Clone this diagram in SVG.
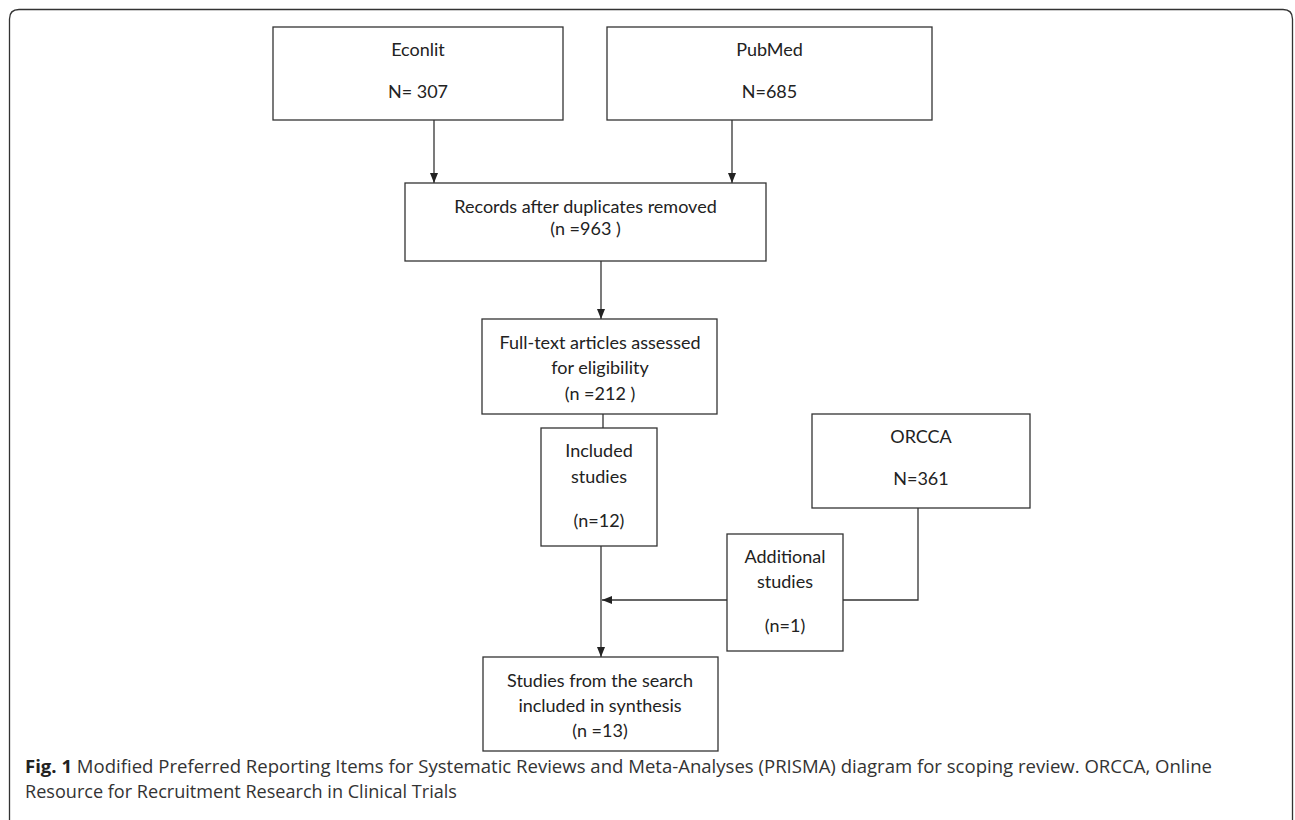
<svg xmlns="http://www.w3.org/2000/svg" width="1295" height="820" viewBox="0 0 1295 820">
<style>
.box{fill:#fff;stroke:#333;stroke-width:1.3}
.t{font-family:Lato,"Open Sans","Liberation Sans",sans-serif;font-size:18px;fill:#222;text-anchor:middle}
.c{stroke:#333;stroke-width:1.3;fill:none}
.cap{font-family:"Open Sans","Noto Sans","Liberation Sans",sans-serif;font-size:18px;fill:#333}
</style>
<defs>
<marker id="ah" viewBox="0 0 10 10" refX="10" refY="5" markerWidth="10" markerHeight="10" markerUnits="userSpaceOnUse" orient="auto">
<path d="M0,1 L10,5 L0,9 Z" fill="#222"/>
</marker>
</defs>
<rect width="1295" height="820" fill="#fff"/>
<path d="M9.5,830 L9.5,19 Q9.5,9.5 19,9.5 L1283,9.5 Q1292.5,9.5 1292.5,19 L1292.5,830" fill="none" stroke="#333" stroke-width="1.3"/>
<g id="connectors">
<line class="c" x1="434" y1="120" x2="434" y2="183" marker-end="url(#ah)"/>
<line class="c" x1="732" y1="120" x2="732" y2="183" marker-end="url(#ah)"/>
<line class="c" x1="601" y1="261" x2="601" y2="319" marker-end="url(#ah)"/>
<line class="c" x1="603" y1="414" x2="603" y2="428"/>
<line class="c" x1="601" y1="546" x2="601" y2="657" marker-end="url(#ah)"/>
<polyline class="c" points="918,508 918,600 843,600"/>
<line class="c" x1="727" y1="600" x2="602" y2="600" marker-end="url(#ah)"/>
</g>
<g id="econlit">
<rect class="box" x="273" y="27" width="290" height="93"/>
<text class="t" x="418" y="56">Econlit</text>
<text class="t" x="418" y="98">N= 307</text>
</g>
<g id="pubmed">
<rect class="box" x="607" y="27" width="325" height="93"/>
<text class="t" x="769.5" y="56">PubMed</text>
<text class="t" x="769.5" y="98">N=685</text>
</g>
<g id="records">
<rect class="box" x="405" y="183" width="361" height="78"/>
<text class="t" x="585.5" y="213">Records after duplicates removed</text>
<text class="t" x="585.5" y="235">(n =963 )</text>
</g>
<g id="fulltext">
<rect class="box" x="482" y="319" width="235" height="95"/>
<text class="t" x="600" y="349">Full-text articles assessed</text>
<text class="t" x="600" y="374">for eligibility</text>
<text class="t" x="600" y="400">(n =212 )</text>
</g>
<g id="included">
<rect class="box" x="541" y="428" width="116" height="118"/>
<text class="t" x="599" y="457">Included</text>
<text class="t" x="599" y="483">studies</text>
<text class="t" x="599" y="527">(n=12)</text>
</g>
<g id="orcca">
<rect class="box" x="812" y="414" width="218" height="94"/>
<text class="t" x="921" y="443">ORCCA</text>
<text class="t" x="921" y="485">N=361</text>
</g>
<g id="additional">
<rect class="box" x="727" y="534" width="116" height="117"/>
<text class="t" x="785" y="563">Additional</text>
<text class="t" x="785" y="588">studies</text>
<text class="t" x="785" y="632">(n=1)</text>
</g>
<g id="studies">
<rect class="box" x="483" y="657" width="235" height="94"/>
<text class="t" x="600" y="687">Studies from the search</text>
<text class="t" x="600" y="712">included in synthesis</text>
<text class="t" x="600" y="737">(n =13)</text>
</g>
<g id="caption">
<text class="cap" x="25" y="773" textLength="1187" lengthAdjust="spacingAndGlyphs"><tspan font-weight="bold" fill="#222">Fig. 1</tspan> Modified Preferred Reporting Items for Systematic Reviews and Meta-Analyses (PRISMA) diagram for scoping review. ORCCA, Online</text>
<text class="cap" x="25" y="798" textLength="432" lengthAdjust="spacingAndGlyphs">Resource for Recruitment Research in Clinical Trials</text>
</g>
</svg>
